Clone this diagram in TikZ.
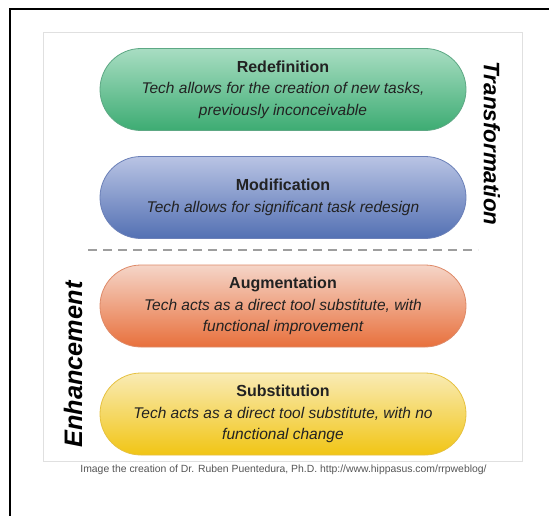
\documentclass[tikz,border=0pt]{standalone}
\usepackage{fontspec}
\setmainfont{Liberation Sans}
\definecolor{gTop}{HTML}{A8DDC2}
\definecolor{gBot}{HTML}{3DAC73}
\definecolor{gLine}{HTML}{5DA884}
\definecolor{bTop}{HTML}{B9C4E4}
\definecolor{bBot}{HTML}{5370B3}
\definecolor{bLine}{HTML}{6B80B8}
\definecolor{oTop}{HTML}{F5D5C8}
\definecolor{oBot}{HTML}{E8703C}
\definecolor{oLine}{HTML}{DE8A68}
\definecolor{yTop}{HTML}{F9EBB5}
\definecolor{yBot}{HTML}{F1C514}
\definecolor{yLine}{HTML}{E6C140}
\definecolor{txt}{HTML}{222222}
\definecolor{cap}{HTML}{555555}
\newcommand{\pilltitle}{\bfseries\upshape\fontsize{16}{21}\selectfont}
\newcommand{\pillbody}{\mdseries\itshape\fontsize{15.5}{21.5}\selectfont}
\begin{document}
\begin{tikzpicture}[x=1pt,y=-1pt,
  pill/.style={rectangle, rounded corners=41pt, minimum width=366pt, minimum height=82pt,
    draw=#1, line width=0.8pt, align=center, inner sep=0pt, text=txt, font=\pillbody},
  side/.style={text=black},
  frameline/.style={draw=black, line width=2pt},
  innerframe/.style={draw=black!12, line width=1pt},
  sep/.style={draw=black!38, line width=2.2pt, dash pattern=on 9pt off 6pt}]
\useasboundingbox (0,0) rectangle (549,516);
\fill[white] (0,0) rectangle (549,516);
% outer frame (top and left only)
\coordinate (fbl) at (10,516);
\coordinate (ftl) at (10,9.5);
\coordinate (ftr) at (549,9.5);
\draw[frameline] (fbl) -- (ftl) -- (ftr);
% inner frame
\draw[innerframe] (43,33) rectangle (522,461);
% pills
\node[pill=gLine, top color=gTop, bottom color=gBot] (red) at (283,89.5)
  {{\pilltitle Redefinition}\\
   Tech allows for the creation of new tasks,\\ previously inconceivable};
\node[pill=bLine, top color=bTop, bottom color=bBot] (mod) at (283,197.5)
  {{\pilltitle Modification}\\
   Tech allows for significant task redesign};
\node[pill=oLine, top color=oTop, bottom color=oBot] (aug) at (283,306)
  {{\pilltitle Augmentation}\\
   Tech acts as a direct tool substitute, with\\ functional improvement};
\node[pill=yLine, top color=yTop, bottom color=yBot] (sub) at (283,414)
  {{\pilltitle Substitution}\\
   Tech acts as a direct tool substitute, with no\\ functional change};
% separator
\coordinate (sepL) at (88,250);
\coordinate (sepR) at (478,250);
\draw[sep] (sepL) -- (sepR);
% side labels
\node[side, rotate=-90, font=\bfseries\itshape\fontsize{22.4}{26}\selectfont] (tr) at (492,143.5) {Transformation};
\node[side, rotate=90, font=\bfseries\itshape\fontsize{25.3}{28}\selectfont] (en) at (73,364.5) {Enhancement};
% caption
\node[text=cap, font=\fontsize{10.4}{12}\selectfont] (capt) at (283.5,470) {Image the creation of Dr. Ruben Puentedura, Ph.D. http://www.hippasus.com/rrpweblog/};
\end{tikzpicture}
\end{document}
